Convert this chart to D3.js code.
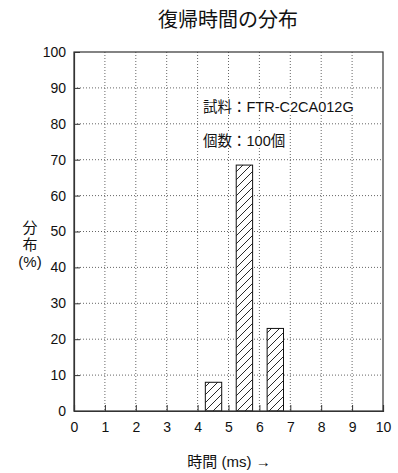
<!DOCTYPE html>
<html><head><meta charset="utf-8">
<script src="https://cdn.jsdelivr.net/npm/d3@7"></script>
<style>
body{margin:0;background:#fff;}
text{font-family:"Liberation Sans","Noto Sans CJK JP",sans-serif;fill:#111;}
</style></head>
<body><svg id="c" width="398" height="473"></svg>
<script>
const binStarts = [4.25, 5.25, 6.25];
const binEnds = [4.78, 5.78, 6.78];
const values = [8, 68.5, 23];
const xTicks = [0,1,2,3,4,5,6,7,8,9,10];
const yTicks = [0,10,20,30,40,50,60,70,80,90,100];
const title = "復帰時間の分布";
const notes = ["試料：FTR-C2CA012G", "個数：100個"];

const svg = d3.select("#c");
const L=74,R=383,T=52,B=411;
const x = d3.scaleLinear().domain([0,10]).range([L,R]);
const y = d3.scaleLinear().domain([0,100]).range([B,T]);

const defs = svg.append("defs");
const pat = defs.append("pattern").attr("id","hatch").attr("patternUnits","userSpaceOnUse")
  .attr("width",8).attr("height",8);
pat.append("rect").attr("width",8).attr("height",8).attr("fill","#fff");
pat.append("path").attr("d","M-2,2 L2,-2 M0,8 L8,0 M6,10 L10,6").attr("stroke","#111").attr("stroke-width",0.9);

// grid
svg.append("g").selectAll("line").data(xTicks.slice(1,-1)).join("line")
  .attr("x1",d=>x(d)).attr("x2",d=>x(d)).attr("y1",T).attr("y2",B)
  .attr("stroke","#666").attr("stroke-width",1).attr("stroke-dasharray","1,2");
svg.append("g").selectAll("line").data(yTicks.slice(1,-1)).join("line")
  .attr("x1",L).attr("x2",R).attr("y1",d=>y(d)).attr("y2",d=>y(d))
  .attr("stroke","#666").attr("stroke-width",1).attr("stroke-dasharray","1,2");

// bars
svg.append("g").selectAll("rect").data(values).join("rect")
  .attr("x",(d,i)=>x(binStarts[i])).attr("width",(d,i)=>x(binEnds[i])-x(binStarts[i]))
  .attr("y",d=>y(d)).attr("height",d=>B-y(d))
  .attr("fill","url(#hatch)").attr("stroke","#111").attr("stroke-width",1);

// notes with white backgrounds
const ng = svg.append("g");
notes.forEach((t,i)=>{
  const tx = ng.append("text").attr("x",203).attr("y",112+i*34)
    .style("font-size","14.5px").text(t);
  const bb = tx.node().getBBox();
  ng.insert("rect","text").attr("x",bb.x-3).attr("y",bb.y).attr("width",bb.width+6).attr("height",bb.height-2)
    .attr("fill","#fff");
});

// frame
svg.append("rect").attr("x",L).attr("y",T).attr("width",R-L).attr("height",B-T)
  .attr("fill","none").attr("stroke","#333").attr("stroke-width",1.2);

// axes with inward ticks
const xa = svg.append("g").attr("transform",`translate(0,${B})`)
  .call(d3.axisBottom(x).tickValues(xTicks).tickSize(-6).tickPadding(11).tickFormat(d3.format("d")));
const ya = svg.append("g").attr("transform",`translate(${L},0)`)
  .call(d3.axisLeft(y).tickValues(yTicks).tickSize(-6).tickPadding(8).tickFormat(d3.format("d")));
[xa,ya].forEach(g=>{
  g.select(".domain").attr("stroke","#333").attr("stroke-width",1.2);
  g.selectAll(".tick line").attr("stroke","#333");
  g.selectAll("text").style("font-size","14px").attr("fill","#111")
   .style("font-family",'"Liberation Sans",sans-serif');
});

svg.append("text").attr("x",228).attr("y",27).attr("text-anchor","middle")
  .style("font-size","20px").text(title);

svg.append("text").attr("x",229).attr("y",467).attr("text-anchor","middle")
  .style("font-size","15px").text("時間 (ms) →");

const yl = ["分","布","(%)"];
svg.selectAll(".yl").data(yl).join("text").attr("class","yl")
  .attr("x",30).attr("y",(d,i)=>233+i*17).attr("text-anchor","middle")
  .style("font-size","15px").text(d=>d);
</script></body></html>
